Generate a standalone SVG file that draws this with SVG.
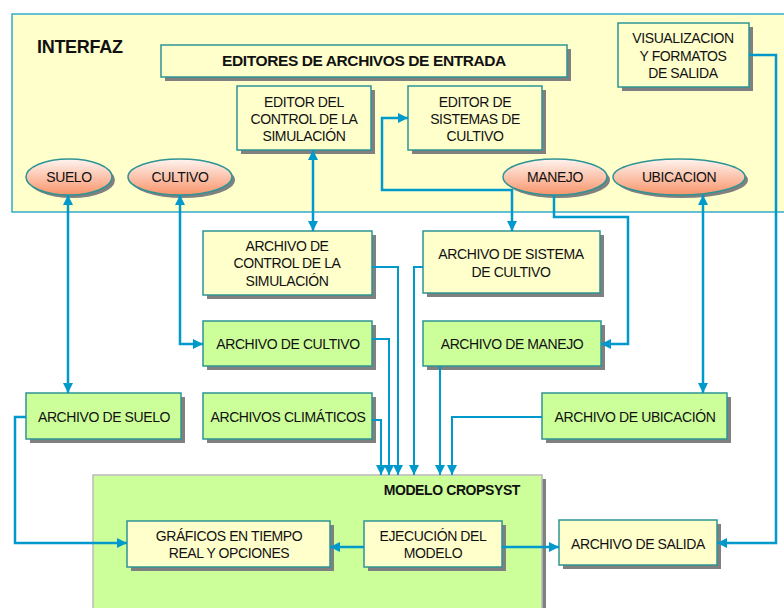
<svg xmlns="http://www.w3.org/2000/svg" width="784" height="608" viewBox="0 0 784 608">
<defs>
<linearGradient id="eg" x1="0" y1="0" x2="0" y2="1">
<stop offset="0" stop-color="#FFF4F0"/>
<stop offset="1" stop-color="#F8946A"/>
</linearGradient>
<marker id="ah" viewBox="0 0 10 10" refX="10" refY="5" markerWidth="10" markerHeight="10" markerUnits="userSpaceOnUse" orient="auto-start-reverse">
<path d="M0,0 L10,5 L0,10 z" fill="#0099CC"/>
</marker>
</defs>
<style>
text{font-family:"Liberation Sans",Arial,sans-serif;font-size:14px;letter-spacing:-0.4px;fill:#111;text-anchor:middle}
.b{font-weight:bold}
.sh{fill:#808080}
.y{fill:#FFFFCC;stroke:#2E9494;stroke-width:1.5}
.g{fill:#CCFF99;stroke:#2E9494;stroke-width:1.5}
.el{fill:url(#eg);stroke:#2E9494;stroke-width:1.5}
.c path{fill:none;stroke:#0099CC;stroke-width:2.5}
</style>
<rect width="784" height="608" fill="#FFFFFF"/>
<g id="interfaz">
<rect x="12" y="14" width="775" height="198" fill="#FFFFCC" stroke="#33AACC" stroke-width="1.5"/>
<text x="37" y="53" class="b" style="font-size:18px;text-anchor:start;letter-spacing:-0.3px">INTERFAZ</text>
</g>
<g id="modelo">
<rect x="97" y="479" width="449" height="140" class="sh"/>
<rect x="93" y="475" width="449" height="140" fill="#CCFF99" stroke="#BBBBBB" stroke-width="1.5"/>
<text x="520" y="495" class="b" style="text-anchor:end">MODELO CROPSYST</text>
</g>
<g id="editores">
<rect x="165" y="49" width="406" height="32" class="sh"/>
<rect x="161" y="45" width="406" height="32" class="y"/>
<text x="364" y="66" class="b" style="font-size:15.5px">EDITORES DE ARCHIVOS DE ENTRADA</text>
</g>
<g id="editor-control">
<rect x="241" y="90" width="134" height="64" class="sh"/>
<rect x="237" y="86" width="134" height="64" class="y"/>
<text x="304" y="107">EDITOR DEL</text>
<text x="304" y="124">CONTROL DE LA</text>
<text x="304" y="141">SIMULACIÓN</text>
</g>
<g id="editor-sistemas">
<rect x="412" y="90" width="134" height="64" class="sh"/>
<rect x="408" y="86" width="134" height="64" class="y"/>
<text x="475" y="107">EDITOR DE</text>
<text x="475" y="124">SISTEMAS DE</text>
<text x="475" y="141">CULTIVO</text>
</g>
<g id="visualizacion">
<rect x="622" y="27" width="131" height="64" class="sh"/>
<rect x="618" y="23" width="131" height="64" class="y"/>
<text x="683" y="43">VISUALIZACION</text>
<text x="683" y="61">Y FORMATOS</text>
<text x="683" y="78">DE SALIDA</text>
</g>
<g id="suelo">
<ellipse cx="72" cy="180" rx="43" ry="18" class="sh"/>
<ellipse cx="69" cy="177" rx="43" ry="18" class="el"/>
<text x="69" y="182">SUELO</text>
</g>
<g id="cultivo">
<ellipse cx="183" cy="180" rx="52" ry="18" class="sh"/>
<ellipse cx="180" cy="177" rx="52" ry="18" class="el"/>
<text x="180" y="182">CULTIVO</text>
</g>
<g id="manejo">
<ellipse cx="558" cy="180" rx="52" ry="18" class="sh"/>
<ellipse cx="555" cy="177" rx="52" ry="18" class="el"/>
<text x="555" y="182">MANEJO</text>
</g>
<g id="ubicacion">
<ellipse cx="682" cy="180" rx="66" ry="18" class="sh"/>
<ellipse cx="679" cy="177" rx="66" ry="18" class="el"/>
<text x="679" y="182">UBICACION</text>
</g>
<g id="archivo-control">
<rect x="207" y="235" width="169" height="64" class="sh"/>
<rect x="203" y="231" width="169" height="64" class="y"/>
<text x="287" y="251">ARCHIVO DE</text>
<text x="287" y="268">CONTROL DE LA</text>
<text x="287" y="286">SIMULACIÓN</text>
</g>
<g id="archivo-sistema">
<rect x="427" y="235" width="177" height="62" class="sh"/>
<rect x="423" y="231" width="177" height="62" class="y"/>
<text x="511" y="259">ARCHIVO DE SISTEMA</text>
<text x="511" y="277">DE CULTIVO</text>
</g>
<g id="archivo-cultivo">
<rect x="207" y="325" width="169" height="45" class="sh"/>
<rect x="203" y="321" width="169" height="45" class="g"/>
<text x="288" y="349">ARCHIVO DE CULTIVO</text>
</g>
<g id="archivo-manejo">
<rect x="427" y="325" width="178" height="45" class="sh"/>
<rect x="423" y="321" width="178" height="45" class="g"/>
<text x="512" y="349">ARCHIVO DE MANEJO</text>
</g>
<g id="archivo-suelo">
<rect x="30" y="397" width="155" height="46" class="sh"/>
<rect x="26" y="393" width="155" height="46" class="g"/>
<text x="104" y="422">ARCHIVO DE SUELO</text>
</g>
<g id="archivos-climaticos">
<rect x="207" y="397" width="169" height="46" class="sh"/>
<rect x="203" y="393" width="169" height="46" class="g"/>
<text x="288" y="422">ARCHIVOS CLIMÁTICOS</text>
</g>
<g id="archivo-ubicacion">
<rect x="546" y="397" width="185" height="46" class="sh"/>
<rect x="542" y="393" width="185" height="46" class="g"/>
<text x="635" y="422">ARCHIVO DE UBICACIÓN</text>
</g>
<g id="graficos">
<rect x="131" y="525" width="203" height="46" class="sh"/>
<rect x="127" y="521" width="203" height="46" class="y"/>
<text x="229" y="541">GRÁFICOS EN TIEMPO</text>
<text x="229" y="558">REAL Y OPCIONES</text>
</g>
<g id="ejecucion">
<rect x="368" y="525" width="138" height="46" class="sh"/>
<rect x="364" y="521" width="138" height="46" class="y"/>
<text x="433" y="541">EJECUCIÓN DEL</text>
<text x="433" y="558">MODELO</text>
</g>
<g id="archivo-salida">
<rect x="563" y="524" width="158" height="45" class="sh"/>
<rect x="559" y="520" width="158" height="45" class="y"/>
<text x="638" y="549">ARCHIVO DE SALIDA</text>
</g>
<g id="connectors" class="c">
<path d="M68,195 L68,393" marker-start="url(#ah)" marker-end="url(#ah)"/>
<path d="M180,195 L180,344 L203,344" marker-start="url(#ah)" marker-end="url(#ah)"/>
<path d="M313,150 L313,231" marker-start="url(#ah)" marker-end="url(#ah)"/>
<path d="M512,231 L512,190 L382,190 L382,118 L408,118" marker-start="url(#ah)" marker-end="url(#ah)"/>
<path d="M554,195 L554,217 L628,217 L628,344 L601,344" marker-end="url(#ah)"/>
<path d="M703,195 L703,393" marker-start="url(#ah)" marker-end="url(#ah)"/>
<path d="M749,55 L776,55 L776,543 L717,543" marker-end="url(#ah)"/>
<path d="M372,420 L381,420 L381,475" marker-end="url(#ah)" style="stroke-width:2"/>
<path d="M372,339 L389,339 L389,475" marker-end="url(#ah)" style="stroke-width:2"/>
<path d="M372,267 L398,267 L398,475" marker-end="url(#ah)" style="stroke-width:2"/>
<path d="M423,267 L414,267 L414,475" marker-end="url(#ah)" style="stroke-width:2"/>
<path d="M440,366 L440,475" marker-end="url(#ah)" style="stroke-width:2"/>
<path d="M542,417 L452,417 L452,475" marker-end="url(#ah)" style="stroke-width:2"/>
<path d="M26,417 L15,417 L15,543 L127,543" marker-end="url(#ah)"/>
<path d="M364,547 L330,547" marker-end="url(#ah)"/>
<path d="M502,547 L559,547" marker-end="url(#ah)"/>
</g>
</svg>
